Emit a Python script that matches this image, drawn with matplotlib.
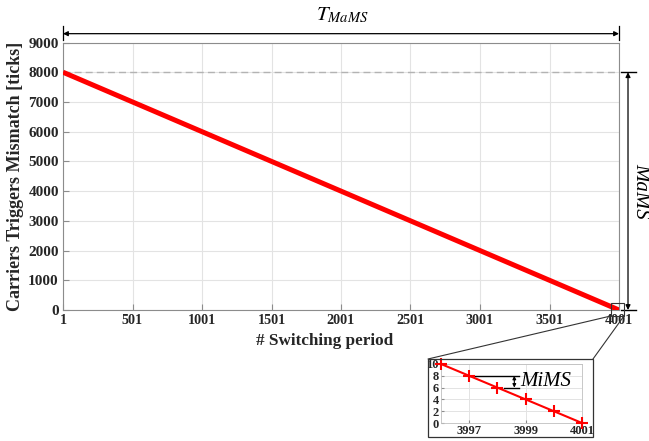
import matplotlib
matplotlib.use("Agg")
import matplotlib.pyplot as plt
from matplotlib.patches import Rectangle, ConnectionPatch

# ---- data ----
switching_period = [1, 4001]
mismatch = [8000, 0]
x_ticks = [1, 501, 1001, 1501, 2001, 2501, 3001, 3501, 4001]
y_ticks = [0, 1000, 2000, 3000, 4000, 5000, 6000, 7000, 8000, 9000]
max_mismatch = 8000

zoom_period = [3996, 3997, 3998, 3999, 4000, 4001]
zoom_mismatch = [10, 8, 6, 4, 2, 0]
zoom_x_ticks = [3997, 3999, 4001]
zoom_y_ticks = [0, 2, 4, 6, 8, 10]

plt.rcParams['font.family'] = ['Liberation Serif', 'DejaVu Serif']

W, H = 649, 441
fig = plt.figure(figsize=(W / 100, H / 100), dpi=100)

def fx(px):
    return px / W

def fy(py):
    return 1 - py / H

frame_col = '#8c8c8c'
text_col = '#262626'
grid_col = '#e3e3e3'

# ---- main axes ----
L, R, T, B = 63, 619, 42.5, 310
ax = fig.add_axes([fx(L), fy(B), fx(R - L), (B - T) / H])
ax.plot(switching_period, mismatch, color='#ff0000', lw=3.6, solid_capstyle='butt', zorder=3)
ax.axhline(max_mismatch, color='#b3b3b3', lw=1.0, ls=(0, (5, 3)), zorder=2)
ax.set_xlim(1, 4001)
ax.set_ylim(0, 9000)
ax.set_xticks(x_ticks)
ax.set_yticks(y_ticks)
ax.grid(True, color=grid_col, lw=0.8)
ax.set_axisbelow(True)
ax.tick_params(direction='in', length=4, color=frame_col, labelcolor=text_col, pad=3)
ax.tick_params(axis='x', labelsize=10.2)
ax.tick_params(axis='y', labelsize=11)
for lab in ax.get_xticklabels() + ax.get_yticklabels():
    lab.set_fontweight('bold')
for s in ax.spines.values():
    s.set_color(frame_col)
    s.set_linewidth(0.8)
ax.set_ylabel('Carriers Triggers Mismatch [ticks]', fontsize=13, fontweight='bold',
              color=text_col, labelpad=3)
ax.set_xlabel('# Switching period', fontsize=12.3, fontweight='bold', color=text_col,
              labelpad=2)
ax.xaxis.set_label_coords(0.47, -0.085)

# small zoom rectangle on main axes
ax.add_patch(Rectangle((3943, -200), 94, 435, fill=False, ec='#333333', lw=0.8,
                       clip_on=False, zorder=4))

# ---- T_MaMS arrow ----
ax.annotate('', xy=(1, 1.033), xytext=(4001, 1.033), xycoords=('data', 'axes fraction'),
            arrowprops=dict(arrowstyle='<|-|>', color='black', lw=0.9,
                            mutation_scale=7, shrinkA=0, shrinkB=0))
for xv in (1, 4001):
    ax.plot([xv, xv], [1.01, 1.06], transform=ax.get_xaxis_transform(),
            color='black', lw=0.9, clip_on=False)
fig.text(fx(342), fy(15), r'$\mathit{T}_{\mathit{MaMS}}$', ha='center', va='center',
         fontsize=15, fontweight='bold', math_fontfamily='stix')

# ---- MaMS arrow ----
xa = 1.0162  # axes fraction
ax.annotate('', xy=(xa, max_mismatch), xytext=(xa, 0), xycoords=('axes fraction', 'data'),
            arrowprops=dict(arrowstyle='<|-|>', color='black', lw=0.9,
                            mutation_scale=7, shrinkA=0, shrinkB=0))
for yv in (max_mismatch, 0):
    ax.plot([1.003, 1.03], [yv, yv], transform=ax.get_yaxis_transform(),
            color='black', lw=1.0, clip_on=False)
fig.text(fx(640.5), fy(191), 'MaMS', rotation=-90, ha='center', va='center',
         fontsize=15, style='italic', color='black')

# ---- inset ----
bx0, bx1, by0, by1 = 428, 593, 359, 437
fig.patches.append(Rectangle((fx(bx0), fy(by1)), fx(bx1 - bx0), (by1 - by0) / H,
                             transform=fig.transFigure, fill=False, ec='#333333',
                             lw=0.9, zorder=5))
axi = fig.add_axes([fx(441), fy(423), fx(582 - 441), (423 - 364) / H])
axi.plot(zoom_period, zoom_mismatch, color='#ff0000', lw=1.5, marker='+',
         ms=8, mew=1.5, clip_on=False, zorder=3)
axi.set_xlim(3996, 4001)
axi.set_ylim(0, 10)
axi.set_xticks(zoom_x_ticks)
axi.set_yticks(zoom_y_ticks)
axi.grid(True, color=grid_col, lw=0.7)
axi.set_axisbelow(True)
axi.tick_params(direction='in', length=2, color=frame_col, labelsize=9,
                labelcolor=text_col, pad=1.5)
for lab in axi.get_xticklabels() + axi.get_yticklabels():
    lab.set_fontweight('bold')
for s in axi.spines.values():
    s.set_color('#bfbfbf')
    s.set_linewidth(0.6)

# MiMS annotation
xm = 3998.6
axi.plot([zoom_period[1], 3998.75], [zoom_mismatch[1]] * 2, color='black', lw=1.0)
axi.plot([3998.25, 3998.75], [zoom_mismatch[2]] * 2, color='black', lw=1.0)
axi.annotate('', xy=(xm, zoom_mismatch[1]), xytext=(xm, zoom_mismatch[2]),
             arrowprops=dict(arrowstyle='<|-|>', color='black', lw=0.8,
                             mutation_scale=5, shrinkA=0, shrinkB=0))
axi.text(3998.8, 7.0, 'MiMS', fontsize=15, style='italic', ha='left', va='center',
         color='black')

# connector lines
for (xd, yd), (bx, by) in [((3943, -200), (bx0, by0)), ((4037, -200), (bx1, by0))]:
    con = ConnectionPatch(xyA=(xd, yd), coordsA=ax.transData,
                          xyB=(fx(bx), fy(by)), coordsB=fig.transFigure,
                          color='#333333', lw=0.8)
    fig.add_artist(con)

fig.savefig('out.png', dpi=100)
